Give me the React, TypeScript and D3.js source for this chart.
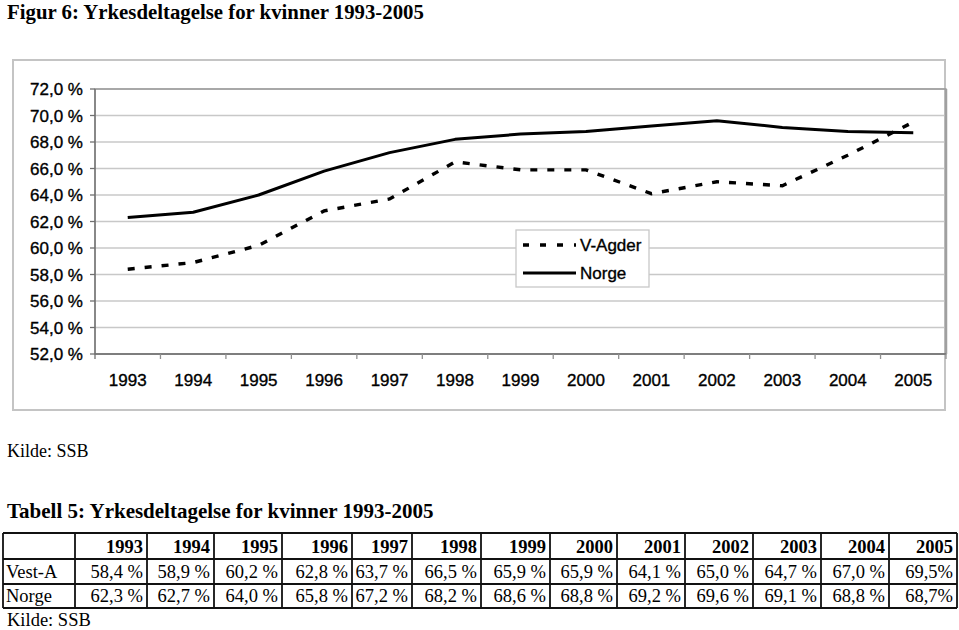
import React from "react";
import * as d3 from "d3";

const years = ["1993","1994","1995","1996","1997","1998","1999","2000","2001","2002","2003","2004","2005"];
const vestAgder = [58.4, 58.9, 60.2, 62.8, 63.7, 66.5, 65.9, 65.9, 64.1, 65.0, 64.7, 67.0, 69.5];
const norge = [62.3, 62.7, 64.0, 65.8, 67.2, 68.2, 68.6, 68.8, 69.2, 69.6, 69.1, 68.8, 68.7];
const yTicks = [52, 54, 56, 58, 60, 62, 64, 66, 68, 70, 72];
const seriesNames = ["V-Agder", "Norge"];
const tableRowNames = ["Vest-A", "Norge"];
const vestLabels = ["58,4 %","58,9 %","60,2 %","62,8 %","63,7 %","66,5 %","65,9 %","65,9 %","64,1 %","65,0 %","64,7 %","67,0 %","69,5%"];
const norgeLabels = ["62,3 %","62,7 %","64,0 %","65,8 %","67,2 %","68,2 %","68,6 %","68,8 %","69,2 %","69,6 %","69,1 %","68,8 %","68,7%"];

// layout
const W = 959, H = 630;
const plot = { left: 95, right: 946, top: 89, bottom: 354 };
const colEdges = [3, 75, 147, 214, 282, 352, 412, 481, 550, 617, 685, 753, 821, 889, 957];
const rowEdges = [533, 559, 584, 608];

const fmtY = (v: number) => v.toFixed(1).replace(".", ",") + " %";

export default function App() {
  const x = d3.scalePoint<string>().domain(years).range([plot.left, plot.right]).padding(0.5);
  const y = d3.scaleLinear().domain([52, 72]).range([plot.bottom, plot.top]);
  const step = x.step();
  const line = d3.line<number>().x((_, i) => x(years[i]) as number).y((d) => y(d));

  const sans = "'Liberation Sans', Arial, sans-serif";
  const serif = "'Liberation Serif', 'Times New Roman', serif";

  return (
    <svg width={W} height={H} style={{ position: "absolute", left: 0, top: 0, background: "#fff" }}>
      <rect width={W} height={H} fill="#fff" />
      <text x={7} y={19} fontFamily={serif} fontWeight="bold" fontSize={20.8} fill="#000">
        Figur 6: Yrkesdeltagelse for kvinner 1993-2005
      </text>

      {/* chart frame */}
      <rect x={13} y={60} width={932} height={350} fill="none" stroke="#c4c4c4" strokeWidth={2} />

      {/* gridlines */}
      {yTicks.map((t) => (
        <line key={"g" + t} x1={plot.left} x2={plot.right} y1={y(t)} y2={y(t)} stroke="#c8c8c8" strokeWidth={1.3} />
      ))}
      <rect x={plot.left} y={plot.top} width={plot.right - plot.left} height={plot.bottom - plot.top} fill="none" stroke="#909090" strokeWidth={1.3} />
      <line x1={plot.right} x2={plot.right} y1={plot.top} y2={plot.bottom} stroke="#a0a0a0" strokeWidth={2.5} />
      <line x1={plot.left} x2={plot.left} y1={plot.top} y2={plot.bottom + 5} stroke="#707070" strokeWidth={1.3} />
      <line x1={plot.left} x2={plot.right} y1={plot.bottom} y2={plot.bottom} stroke="#707070" strokeWidth={1.3} />

      {/* y ticks + labels */}
      {yTicks.map((t) => (
        <g key={"y" + t}>
          <line x1={plot.left - 5} x2={plot.left} y1={y(t)} y2={y(t)} stroke="#707070" strokeWidth={1.3} />
          <text x={83} y={y(t)} dy="0.36em" textAnchor="end" fontFamily={sans} fontSize={17} fill="#000" stroke="#000" strokeWidth={0.35}>
            {fmtY(t)}
          </text>
        </g>
      ))}

      {/* x ticks + labels */}
      {years.map((yr, i) => (
        <g key={"x" + yr}>
          {i > 0 && (
            <line x1={(x(yr) as number) - step / 2} x2={(x(yr) as number) - step / 2} y1={plot.bottom} y2={plot.bottom + 5} stroke="#909090" strokeWidth={1.3} />
          )}
          <text x={x(yr)} y={386} textAnchor="middle" fontFamily={sans} fontSize={17} fill="#000" stroke="#000" strokeWidth={0.35}>
            {yr}
          </text>
        </g>
      ))}
      <line x1={plot.right} x2={plot.right} y1={plot.bottom} y2={plot.bottom + 5} stroke="#909090" strokeWidth={1.3} />

      {/* series */}
      <path d={line(norge) || ""} fill="none" stroke="#000" strokeWidth={3} strokeLinejoin="round" />
      <path d={line(vestAgder) || ""} fill="none" stroke="#000" strokeWidth={3.4} strokeDasharray="7 10" />

      {/* legend */}
      <rect x={516} y={230} width={133} height={57} fill="#fff" stroke="#c8c8c8" strokeWidth={1.3} />
      <line x1={523} x2={576} y1={245} y2={245} stroke="#000" strokeWidth={3.4} strokeDasharray="6 11" />
      <text x={580} y={251} fontFamily={sans} fontSize={17} fill="#000" stroke="#000" strokeWidth={0.35}>{seriesNames[0]}</text>
      <line x1={523} x2={576} y1={273} y2={273} stroke="#000" strokeWidth={3} />
      <text x={580} y={279} fontFamily={sans} fontSize={17} fill="#000" stroke="#000" strokeWidth={0.35}>{seriesNames[1]}</text>

      <text x={7} y={457} fontFamily={serif} fontSize={18} fill="#000">Kilde: SSB</text>

      <text x={7} y={518} fontFamily={serif} fontWeight="bold" fontSize={21} fill="#000">
        Tabell 5: Yrkesdeltagelse for kvinner 1993-2005
      </text>

      {/* table */}
      <g>
        {rowEdges.map((r) => (
          <line key={"r" + r} x1={colEdges[0]} x2={colEdges[colEdges.length - 1]} y1={r} y2={r} stroke="#111" strokeWidth={1.8} />
        ))}
        {colEdges.map((c) => (
          <line key={"c" + c} x1={c} x2={c} y1={rowEdges[0]} y2={rowEdges[rowEdges.length - 1]} stroke="#111" strokeWidth={1.8} />
        ))}
        {years.map((yr, i) => (
          <text key={"h" + yr} x={colEdges[i + 2] - 4} y={553} textAnchor="end" fontFamily={serif} fontWeight="bold" fontSize={18.5} fill="#000">{yr}</text>
        ))}
        <text x={6} y={578} fontFamily={serif} fontSize={18.5} fill="#000">{tableRowNames[0]}</text>
        <text x={6} y={602} fontFamily={serif} fontSize={18.5} fill="#000">{tableRowNames[1]}</text>
        {vestLabels.map((l, i) => (
          <text key={"v" + i} x={colEdges[i + 2] - 4} y={578} textAnchor="end" fontFamily={serif} fontSize={18.5} fill="#000">{l}</text>
        ))}
        {norgeLabels.map((l, i) => (
          <text key={"n" + i} x={colEdges[i + 2] - 4} y={602} textAnchor="end" fontFamily={serif} fontSize={18.5} fill="#000">{l}</text>
        ))}
      </g>
      <text x={7} y={626} fontFamily={serif} fontSize={18.5} fill="#000">Kilde: SSB</text>
    </svg>
  );
}
